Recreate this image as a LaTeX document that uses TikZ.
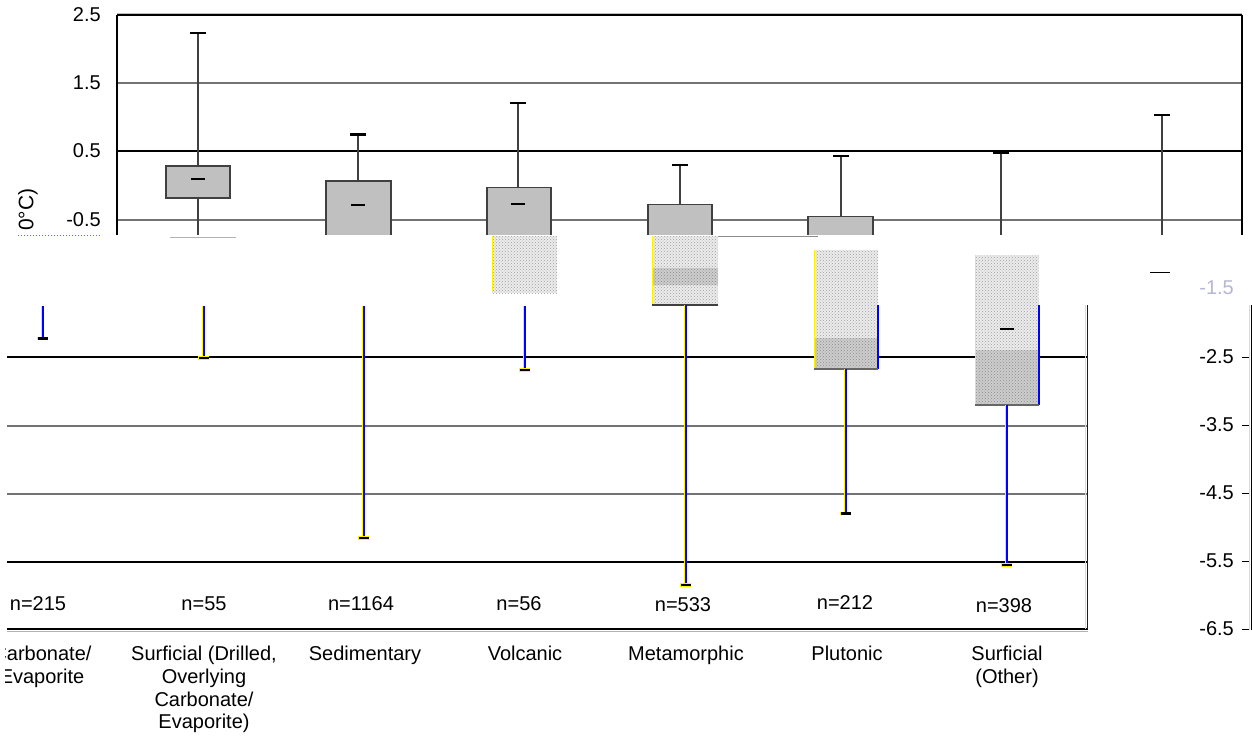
\documentclass[tikz,border=0pt]{standalone}
\usepackage{fontspec}
\setmainfont{Liberation Sans}
\usetikzlibrary{patterns}
\definecolor{boxgray}{RGB}{192,192,192}
\definecolor{noisegray}{RGB}{236,236,236}
\definecolor{noisedark}{RGB}{205,205,205}
\begin{document}
\begin{tikzpicture}[x=1pt,y=-1pt,
  lbl/.style={font=\fontsize{20}{22.7}\selectfont, inner sep=0pt, align=center},
  gblack/.style={draw=black, line width=1.4pt},
  ggray/.style={draw=black!55, line width=1.4pt},
  frame/.style={draw=black, line width=2.2pt},
  boxst/.style={fill=boxgray},
  boxedge/.style={draw=black!75, line width=1.3pt},
  whisk/.style={draw=black!75, line width=1.1pt},
  capst/.style={draw=black, line width=2.4pt},
  med/.style={draw=black, line width=2.6pt},
  noisy/.style={fill=noisegray, postaction={pattern=crosshatch dots, pattern color=gray!75}},
  noisyd/.style={fill=noisedark, postaction={pattern=crosshatch dots, pattern color=gray!90}},
  yel/.style={draw=yellow, line width=1.2pt},
  yelthin/.style={draw=yellow, line width=0.8pt},
  blu/.style={draw=blue, line width=1.4pt},
  bluw/.style={draw=blue, line width=1.7pt},
  bcap/.style={draw=black, line width=2.2pt}
]
\useasboundingbox (0,0) rectangle (1252,736);
\fill[white] (0,0) rectangle (1252,736);

% ================= upper chart =================
\draw[ggray] (117,83) -- (1242,83);
\draw[gblack] (117,151) -- (1242,151);
\draw[ggray] (117,220) -- (1242,220);
\draw[black!25, line width=1pt] (117,13) -- (1242,13);
\draw[frame] (117,15) -- (1242,15);
\draw[frame] (117,15) -- (117,235);
\draw[frame] (1242,15) -- (1242,235);

% box 1
\draw[whisk] (198,33) -- (198,235);
\draw[capst] (190,33) -- (206,33);
\fill[boxst] (166,166) rectangle (230,198);
\draw[boxedge] (166,166) rectangle (230,198);
\draw[med] (191,179) -- (205,179);
% box 2
\draw[whisk] (358,134.5) -- (358,181);
\draw[capst] (350,134.5) -- (366,134.5);
\fill[boxst] (326,181) rectangle (391,235);
\draw[boxedge] (326,235) |- (391,181) -- (391,235);
\draw[med] (351,205) -- (365,205);
% box 3
\draw[whisk] (518,102.7) -- (518,187.3);
\draw[capst] (510,102.7) -- (526,102.7);
\fill[boxst] (487,187.3) rectangle (551,235);
\draw[boxedge] (487,235) |- (551,187.3) -- (551,235);
\draw[med] (511,204) -- (525,204);
% box 4
\draw[whisk] (680,164.7) -- (680,204.7);
\draw[capst] (672,164.7) -- (688,164.7);
\fill[boxst] (648,204.7) rectangle (712,235);
\draw[boxedge] (648,235) |- (712,204.7) -- (712,235);
% box 5
\draw[whisk] (841,155.7) -- (841,216.3);
\draw[capst] (833,155.7) -- (849,155.7);
\fill[boxst] (808,216.3) rectangle (873,235);
\draw[boxedge] (808,235) |- (873,216.3) -- (873,235);
% whisker 6, 7
\draw[whisk] (1001,152.7) -- (1001,235);
\draw[capst] (993,152.7) -- (1009,152.7);
\draw[whisk] (1162,114.7) -- (1162,235);
\draw[capst] (1154,114.7) -- (1170,114.7);
% cut artefacts
\draw[black!30, line width=1pt] (170,237) -- (236,237);
\draw[black!45, line width=1pt] (712,236) -- (818,236);
\draw[blue!60, dotted, line width=1pt] (18,235.5) -- (102,235.5);

% left axis labels
\node[lbl, anchor=east] (t25) at (101,15) {2.5};
\node[lbl, anchor=east] (t15) at (101,83) {1.5};
\node[lbl, anchor=east] (t05) at (101,151) {0.5};
\node[lbl, anchor=east] (tm05) at (101,220) {-0.5};
\node[lbl, rotate=90, anchor=west, font=\fontsize{21}{24}\selectfont] (ytitle) at (28,231) {0°C)};

% ================= lower chart =================
\draw[gblack] (7,357) -- (1087,357);
\draw[ggray] (7,426) -- (1087,426);
\draw[ggray] (7,494) -- (1087,494);
\draw[gblack] (7,562) -- (1087,562);
\draw[black!30, line width=1pt] (7,631.5) -- (1088,631.5);
\draw[frame] (7,629) -- (1088,629);
\draw[yel] (1085.5,305) -- (1085.5,629);
\draw[blu] (1087.3,305) -- (1087.3,629);

% right axis
\draw[draw=black, line width=0.9pt] (1251,305) -- (1251,630);
\draw[draw=yellow, line width=1.8pt] (1249.5,305) -- (1249.5,630);
\foreach \yy in {357,425,493,561,629} \draw[black, line width=1pt] (1242,\yy) -- (1249,\yy);
\node[lbl, anchor=east] (r25) at (1234,357) {-2.5};
\node[lbl, anchor=east] (r35) at (1234,425) {-3.5};
\node[lbl, anchor=east] (r45) at (1234,493) {-4.5};
\node[lbl, anchor=east] (r55) at (1234,561) {-5.5};
\node[lbl, anchor=east] (r65) at (1234,629) {-6.5};
\node[lbl, anchor=east, text=blue!25!gray!45] (r15) at (1234,288) {-1.5};
\draw[black, line width=1pt] (1150,272) -- (1170,272);

% noisy boxes
\fill[noisy] (492,236) rectangle (557,293);
\draw[yel] (492.5,236) -- (492.5,291);
\fill[noisy] (652,236) rectangle (718,305);
\fill[noisyd] (652,268) rectangle (718,285);
\draw[yel] (652.5,236) -- (652.5,305);
\draw[black!75, line width=1.2pt] (652,305) -- (718,305);
\fill[noisy] (814,250) rectangle (878,369);
\fill[noisyd] (814,338) rectangle (878,369);
\draw[yel] (814.5,250) -- (814.5,369);
\draw[blu] (878,305) -- (878,369);
\draw[black!60, line width=1.2pt] (814,369) -- (878,369);
\fill[noisy] (975,255) rectangle (1039,405);
\fill[noisyd] (975,350) rectangle (1039,405);
\draw[yel] (975.5,255) -- (975.5,405);
\draw[blu] (1039,305) -- (1039,405);
\draw[black!60, line width=1.2pt] (975,405) -- (1039,405);
\draw[med] (1000,329) -- (1014,329);

% lower whiskers (thin yellow edge + blue core)
\foreach \xx/\ya/\yb in {43/306/338.5, 204/306/358, 364/306/538, 525/306/370, 686/305/585, 846/369/513.5, 1007/405/565}{
  \draw[yelthin] (\xx-1.5,\ya) -- (\xx-1.5,\yb);
  \draw[bluw] (\xx+0.3,\ya) -- (\xx+0.3,\yb);
  \draw[draw=yellow, line width=3.2pt] (\xx-6,\yb) -- (\xx+5,\yb);
  \draw[bcap] (\xx-5,\yb) -- (\xx+5,\yb);
}

% n labels
\node[lbl] (n1) at (38,604) {n=215};
\node[lbl] (n2) at (204,604) {n=55};
\node[lbl] (n3) at (361,604) {n=1164};
\node[lbl] (n4) at (519,604) {n=56};
\node[lbl] (n5) at (683,605) {n=533};
\node[lbl] (n6) at (845,603) {n=212};
\node[lbl] (n7) at (1004,606) {n=398};

% category labels
\begin{scope}
\clip (5,630) rectangle (150,736);
\node[lbl, anchor=north] (c1) at (42,646) {Carbonate/\\Evaporite};
\end{scope}
\node[lbl, anchor=north] (c2) at (204,646) {Surficial (Drilled,\\Overlying\\Carbonate/\\Evaporite)};
\node[lbl, anchor=north] (c3) at (365,646) {Sedimentary};
\node[lbl, anchor=north] (c4) at (525,646) {Volcanic};
\node[lbl, anchor=north] (c5) at (686,646) {Metamorphic};
\node[lbl, anchor=north] (c6) at (847,646) {Plutonic};
\node[lbl, anchor=north] (c7) at (1007,646) {Surficial\\(Other)};
\end{tikzpicture}
\end{document}
